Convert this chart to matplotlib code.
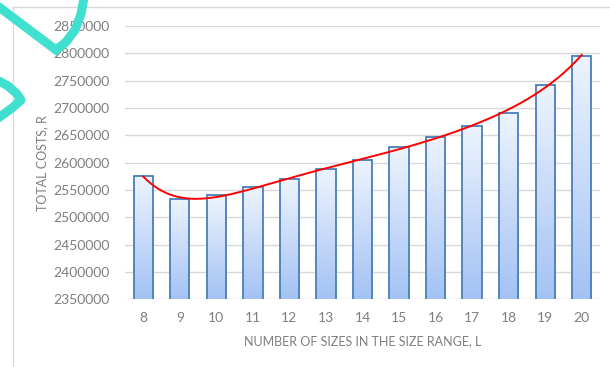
import matplotlib
matplotlib.use("Agg")
import matplotlib.pyplot as plt
import numpy as np
from matplotlib.colors import LinearSegmentedColormap
from matplotlib.lines import Line2D

# Data
sizes = [8, 9, 10, 11, 12, 13, 14, 15, 16, 17, 18, 19, 20]
costs = [2575500, 2533000, 2540000, 2554800, 2569500, 2587800, 2605000,
         2628000, 2646400, 2667600, 2691400, 2742600, 2795700]
y_ticks = np.arange(2350000, 2850001, 50000)

plt.rcParams["font.family"] = ["Lato", "DejaVu Sans"]
grey = "#7f7f7f"

fig = plt.figure(figsize=(6.1, 3.67), dpi=100)
ax = fig.add_axes([0.2049, 0.1845, 0.7787, 0.7447])

x = np.arange(len(sizes))
ymin, ymax = y_ticks[0], y_ticks[-1]

bars = ax.bar(x, costs, width=0.53, bottom=0, facecolor="none",
              edgecolor="#4a7ebb", linewidth=1.3, zorder=3)

cmap = LinearSegmentedColormap.from_list("bar", ["#a3c2f4", "#eef4fe"])
grad = np.linspace(0, 1, 256).reshape(-1, 1)
for b in bars:
    x0 = b.get_x()
    im = ax.imshow(grad, extent=[x0, x0 + b.get_width(), ymin, b.get_height()],
                   origin="lower", aspect="auto", cmap=cmap, zorder=2)
    im.set_clip_path(b)

# polynomial trend line as in the spreadsheet
coef = np.polyfit(x, costs, 6)
xs = np.linspace(x[0], x[-1], 200)
ax.plot(xs, np.polyval(coef, xs), color="#ff0000", linewidth=1.4, zorder=4)

ax.set_xlim(-0.5, len(sizes) - 0.5)
ax.set_ylim(ymin, ymax)
ax.set_yticks(y_ticks)
ax.set_yticklabels([str(v) for v in y_ticks])
ax.set_xticks(x)
ax.set_xticklabels([str(s) for s in sizes])
ax.grid(axis="y", color="#d9d9d9", linewidth=1.0, zorder=0)
ax.set_axisbelow(True)
for s in ax.spines.values():
    s.set_visible(False)
ax.tick_params(axis="both", length=0, colors=grey, labelsize=10)
ax.tick_params(axis="y", pad=11)
ax.tick_params(axis="x", pad=9)
ax.set_xlabel("NUMBER OF SIZES IN THE SIZE RANGE, L", color=grey,
              fontsize=9, labelpad=8)
ax.set_ylabel("TOTAL COSTS, R", color=grey, fontsize=9, labelpad=4)

# chart area border (cropped) and the stray teal mark
W, H = 610, 367
fig.add_artist(Line2D([13 / W, 13 / W], [0, 1 - 7 / H], color="#d9d9d9",
                      linewidth=1.0, transform=fig.transFigure))
fig.add_artist(Line2D([13 / W, 1], [1 - 7 / H, 1 - 7 / H], color="#d9d9d9",
                      linewidth=1.0, transform=fig.transFigure))
px = np.array([-5, 56, 66, 75, 81, 84])
py = np.array([4, 50, 42, 30, 14, -2])
fig.add_artist(Line2D(px / W, 1 - py / H, color="#40e0d0", linewidth=6.5,
                      solid_joinstyle="miter", transform=fig.transFigure))
qx = np.array([-3, 8, 17, 21, 12, -3])
qy = np.array([80, 86, 94, 100, 108, 119])
fig.add_artist(Line2D(qx / W, 1 - qy / H, color="#40e0d0", linewidth=6.5,
                      transform=fig.transFigure))

fig.savefig("out.png", dpi=100)
